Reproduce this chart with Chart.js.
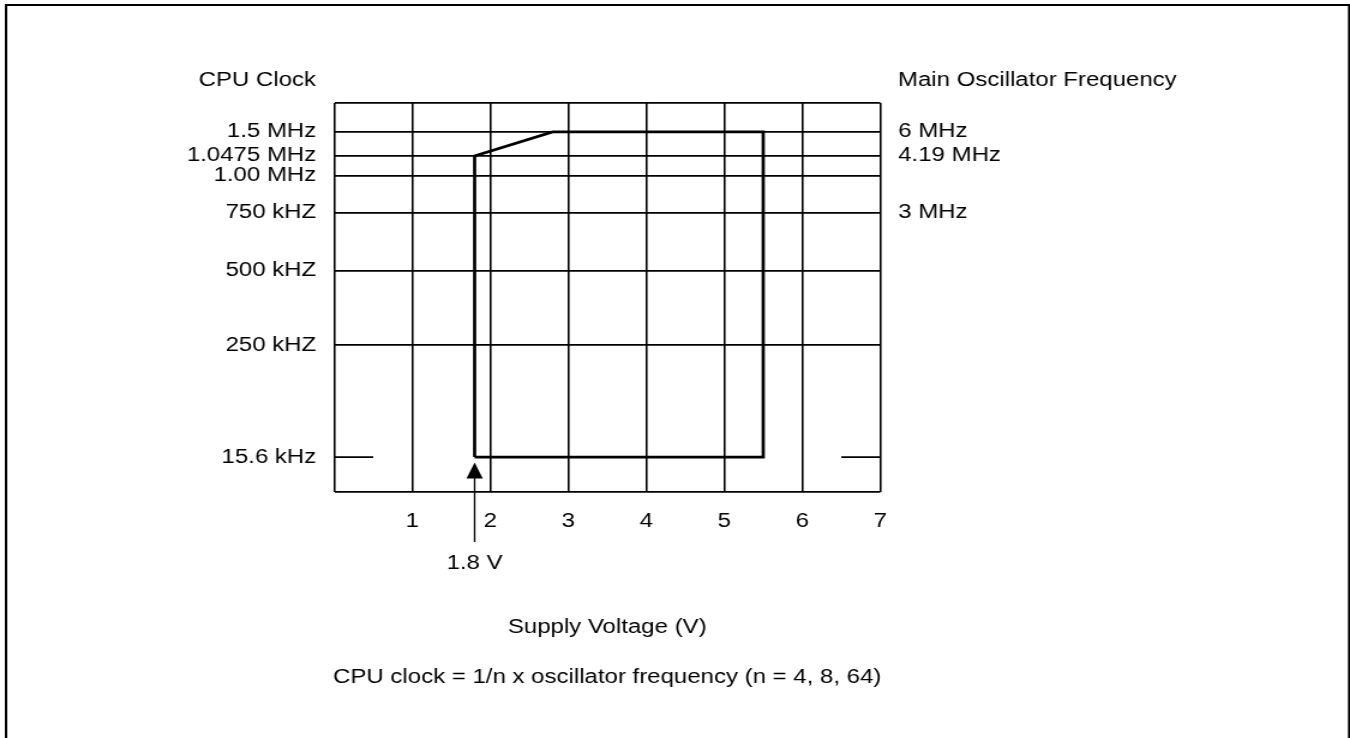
<!DOCTYPE html>
<html>
<head>
<meta charset="utf-8">
<script src="https://cdn.jsdelivr.net/npm/chart.js@4/dist/chart.umd.min.js"></script>
<style>
  html, body { margin: 0; padding: 0; background: #fff; }
  #clockChart { display: block; }
</style>
</head>
<body>
<!-- drawn at 1125 wide, shown at 1350 (wide lettering) -->
<canvas id="clockChart" width="1125" height="738" style="width:1350px;height:738px"></canvas>
<script>
// CPU clock levels on the left axis (schematic spacing, not to scale)
const clockLabels = ['15.6 kHz', '250 kHZ', '500 kHZ', '750 kHZ', '1.00 MHz', '1.0475 MHz', '1.5 MHz'];
const clockLevels = [3.5, 14.7, 22.2, 28.0, 31.7, 33.7, 36.1];

// matching oscillator frequencies on the right axis
const oscLabels = ['3 MHz', '4.19 MHz', '6 MHz'];
const oscLevels = [28.0, 33.7, 36.1];

// supply voltage axis
const voltMin = 0;
const voltMax = 7;
const levelMax = 39;

// operating region outline
const boundaryVolts = [1.8, 1.8, 2.8, 5.5, 5.5, 1.8];
const boundaryClock = ['15.6 kHz', '1.0475 MHz', '1.5 MHz', '1.5 MHz', '15.6 kHz', '15.6 kHz'];

// short stubs for the lowest clock line
const stubFrom = [0, 6.5];
const stubTo = [0.5, 7];

const minVoltage = 1.8;

const levelOf = name => clockLevels[clockLabels.indexOf(name)];
const lowLevel = levelOf('15.6 kHz');

Chart.defaults.font.family = "'Liberation Sans', Arial, sans-serif";
Chart.defaults.font.size = 20;
Chart.defaults.color = '#000';

const extras = {
    id: 'extras',
    beforeDraw(chart) {
        const ctx = chart.ctx;
        ctx.save();
        ctx.strokeStyle = '#000';
        ctx.lineWidth = 2;
        ctx.strokeRect(5, 5, 1119.3, 800);
        ctx.restore();
    },
    afterDraw(chart) {
        const ctx = chart.ctx;
        const x = chart.scales.x;
        const y = chart.scales.y;
        const area = chart.chartArea;
        ctx.save();
        ctx.strokeStyle = '#000';
        ctx.fillStyle = '#000';

        // 15.6 kHz stubs
        ctx.lineWidth = 1.8;
        const yl = y.getPixelForValue(lowLevel);
        for (let i = 0; i < stubFrom.length; i++) {
            ctx.beginPath();
            ctx.moveTo(x.getPixelForValue(stubFrom[i]), yl);
            ctx.lineTo(x.getPixelForValue(stubTo[i]), yl);
            ctx.stroke();
        }

        // arrow marking the minimum supply voltage
        const ax = x.getPixelForValue(minVoltage);
        const tip = yl + 5.5;
        ctx.lineWidth = 1.3;
        ctx.beginPath();
        ctx.moveTo(ax, tip + 14);
        ctx.lineTo(ax, 542);
        ctx.stroke();
        ctx.beginPath();
        ctx.moveTo(ax, tip);
        ctx.lineTo(ax - 6.8, tip + 16);
        ctx.lineTo(ax + 6.8, tip + 16);
        ctx.closePath();
        ctx.fill();

        ctx.font = "20px 'Liberation Sans', Arial, sans-serif";
        ctx.textBaseline = 'middle';
        ctx.textAlign = 'center';
        ctx.fillText(minVoltage + ' V', ax, 563);

        const cx = (area.left + area.right) / 2;
        ctx.fillText('Supply Voltage (V)', cx, 627);
        ctx.fillText('CPU clock = 1/n x oscillator frequency (n = 4, 8, 64)', cx, 677);

        ctx.textAlign = 'right';
        ctx.fillText('CPU Clock', 263.3, 80);
        ctx.textAlign = 'left';
        ctx.fillText('Main Oscillator Frequency', 748.3, 80);
        ctx.restore();
    }
};

new Chart(document.getElementById('clockChart'), {
    type: 'scatter',
    data: {
        datasets: [{
            data: boundaryVolts.map((v, i) => ({ x: v, y: levelOf(boundaryClock[i]) })),
            showLine: true,
            borderColor: '#000',
            borderWidth: 2.7,
            pointRadius: 0,
            fill: false,
            tension: 0
        }]
    },
    options: {
        responsive: false,
        animation: false,
        layout: { padding: { top: 103, left: 0, right: 0, bottom: 0 } },
        plugins: { legend: { display: false }, tooltip: { enabled: false } },
        scales: {
            x: {
                type: 'linear',
                min: voltMin,
                max: voltMax,
                afterFit: s => { s.height = 246; },
                ticks: {
                    stepSize: 1,
                    padding: 17,
                    maxRotation: 0,
                    callback: v => (v === 0 ? '' : String(v))
                },
                grid: { color: '#000', lineWidth: 1.6, drawTicks: false },
                border: { display: false }
            },
            y: {
                type: 'linear',
                position: 'left',
                min: 0,
                max: levelMax,
                afterFit: s => { s.width = 278.5; },
                afterBuildTicks: s => {
                    s.ticks = [0, ...clockLevels, levelMax].map(v => ({ value: v }));
                },
                ticks: {
                    autoSkip: false,
                    padding: 15,
                    callback: v => {
                        const i = clockLevels.indexOf(v);
                        return i < 0 ? '' : clockLabels[i];
                    }
                },
                grid: {
                    drawTicks: false,
                    lineWidth: 1.8,
                    color: c => (c.tick && c.tick.value === lowLevel ? 'rgba(0,0,0,0)' : '#000')
                },
                border: { display: false }
            },
            y2: {
                type: 'linear',
                position: 'right',
                min: 0,
                max: levelMax,
                afterFit: s => { s.width = 391.5; },
                afterBuildTicks: s => {
                    s.ticks = oscLevels.map(v => ({ value: v }));
                },
                ticks: {
                    autoSkip: false,
                    padding: 15,
                    callback: v => {
                        const i = oscLevels.indexOf(v);
                        return i < 0 ? '' : oscLabels[i];
                    }
                },
                grid: { display: false, drawTicks: false },
                border: { display: false }
            }
        }
    },
    plugins: [extras]
});
</script>
</body>
</html>
